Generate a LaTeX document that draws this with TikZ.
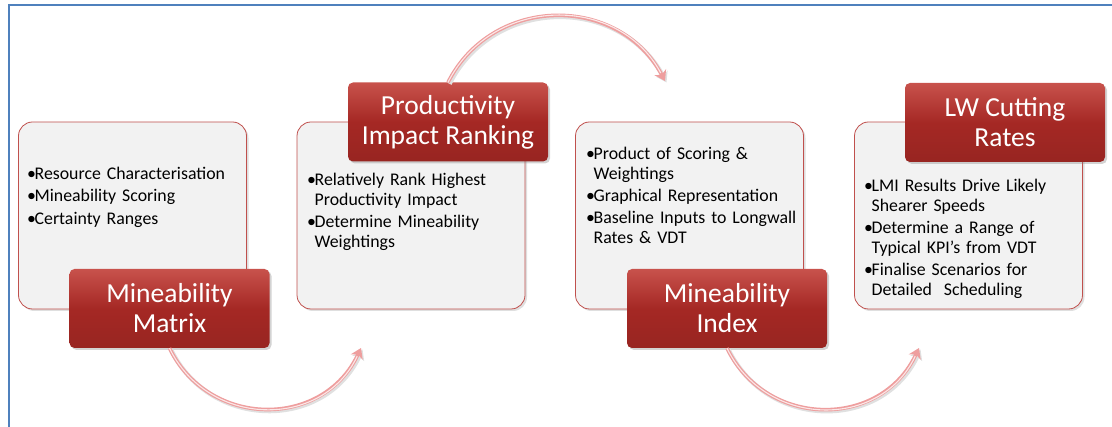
\documentclass[tikz,border=0pt]{standalone}
\usepackage{fontspec}
\setmainfont{Carlito}
\usetikzlibrary{shadows,arrows.meta}

\definecolor{labred}{RGB}{165,40,36}
\definecolor{labtop}{RGB}{200,82,76}
\definecolor{boxline}{RGB}{192,80,77}
\definecolor{boxfill}{RGB}{242,242,242}
\definecolor{arrowpink}{RGB}{238,158,158}
\definecolor{frameblue}{RGB}{79,129,189}

\newcommand{\bitem}[1]{\par\setlength{\parskip}{2.5pt}\hangindent=0.42em\hangafter=1\noindent\makebox[0.42em][l]{\textbullet}#1\par}

\begin{document}
\begin{tikzpicture}[x=1pt,y=1pt,
  infobox/.style={draw=boxline, line width=0.8pt, fill=boxfill, rounded corners=14pt,
    minimum width=228pt, minimum height=187pt,
    drop shadow={shadow xshift=2pt, shadow yshift=-2pt, opacity=0.25}},
  titlebox/.style={rounded corners=5pt, top color=labtop, bottom color=labred!92!black,
    middle color=labred, minimum width=200pt, minimum height=79pt, text=white,
    align=center, font=\fontsize{27.5}{30}\selectfont,
    drop shadow={shadow xshift=2pt, shadow yshift=-2pt, opacity=0.35}},
  bullets/.style={anchor=north west, inner sep=0pt, text width=220pt, align=left,
    font=\fontsize{17.8}{19.8}\selectfont},
  flow/.style={draw=arrowpink, line width=3.6pt, -{Stealth[length=10pt,width=13pt,inset=3pt]},
    preaction={draw=black!12, line width=4.5pt, transform canvas={shift={(1.5pt,-1.5pt)}}},
    postaction={draw=white!75!arrowpink, line width=1.1pt, -, shorten >=9pt}}]

\useasboundingbox (0,0) rectangle (1112,-427);

% Frame
\draw[frameblue, line width=1.5pt] (9,-440) -- (9,-5) -- (1130,-5);

% Boxes
\node[infobox] (matrixbox) at (132.5,-215.5) {};
\node[infobox] (rankingbox) at (411,-215.5) {};
\node[infobox] (indexbox) at (689.5,-215.5) {};
\node[infobox] (ratesbox) at (968.5,-215.5) {};

% Box texts
\node[bullets] (matrixtext) at (27,-157) {\bitem{Resource Characterisation}\bitem{Mineability Scoring}\bitem{Certainty Ranges}};
\node[bullets] (rankingtext) at (307,-163) {\bitem{Relatively Rank Highest\newline Productivity Impact}\bitem{Determine Mineability\newline Weightings}};
\node[bullets] (indextext) at (586,-137) {\bitem{Product of Scoring \&\newline Weightings}\bitem{Graphical Representation}\bitem{Baseline Inputs to Longwall\newline Rates \& VDT}};
\node[bullets] (ratestext) at (864,-169) {\bitem{LMI Results Drive Likely\newline Shearer Speeds}\bitem{Determine a Range of\newline Typical KPI’s from VDT}\bitem{Finalise Scenarios for\newline Detailed~ Scheduling}};

% Titles
\node[titlebox] (matrix) at (169.5,-308.5) {Mineability\\Matrix};
\node[titlebox] (ranking) at (448,-122) {Productivity\\Impact Ranking};
\node[titlebox] (index) at (727,-308.5) {Mineability\\Index};
\node[titlebox] (rates) at (1005,-122.5) {LW Cutting\\Rates};

% Arrows
\coordinate (matrixend) at (361,-348);
\coordinate (rankingend) at (665,-81);
\coordinate (indexend) at (919,-348);
\draw[flow] (matrix.south) to[out=-64,in=-115,looseness=1.2] (matrixend);
\draw[flow] (ranking.north) to[out=63,in=118,looseness=1.16] (rankingend);
\draw[flow] (index.south) to[out=-64,in=-115,looseness=1.2] (indexend);

\end{tikzpicture}
\end{document}
